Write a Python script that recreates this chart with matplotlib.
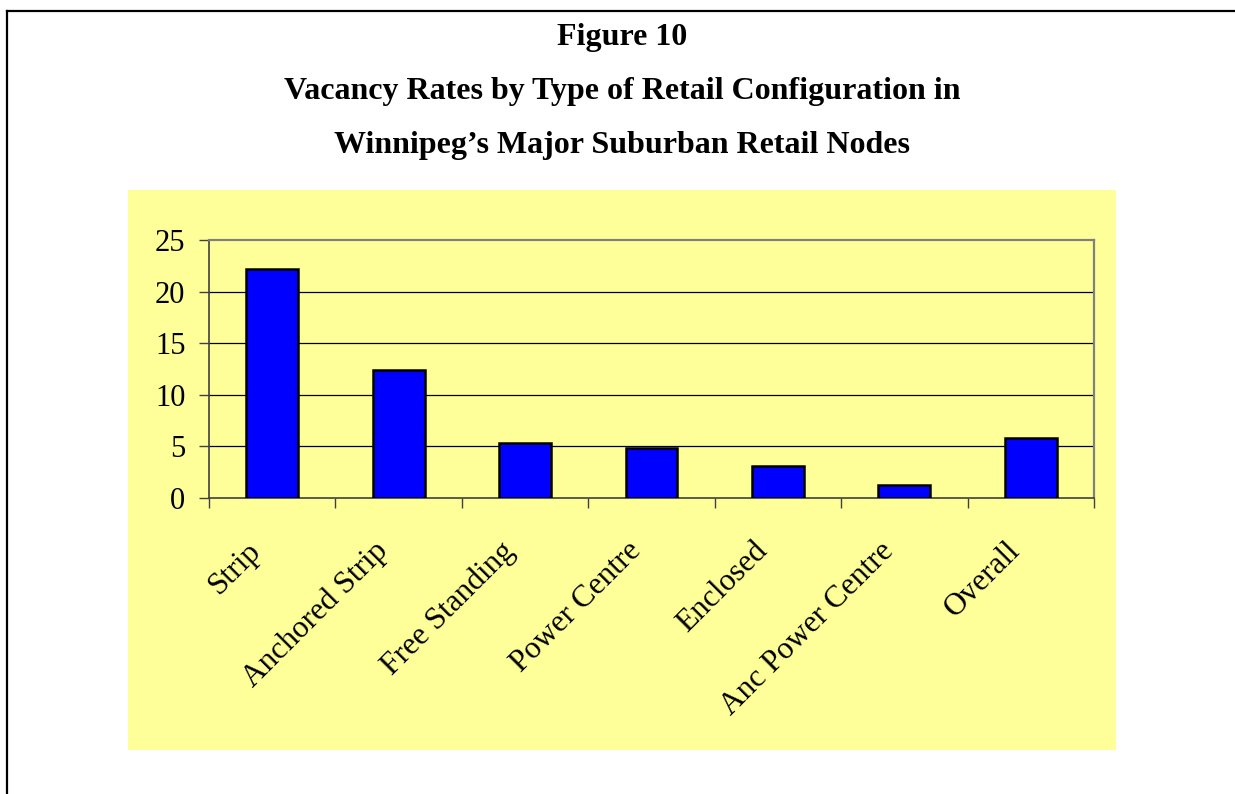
import matplotlib
matplotlib.use('Agg')
import matplotlib.pyplot as plt
import matplotlib.transforms as mtransforms
from matplotlib.lines import Line2D

plt.rcParams['font.family'] = ['Liberation Serif', 'DejaVu Serif']

categories = ['Strip', 'Anchored Strip', 'Free Standing', 'Power Centre',
              'Enclosed', 'Anc Power Centre', 'Overall']
vacancy = [22.2, 12.4, 5.3, 4.8, 3.1, 1.3, 5.8]
yticks = [0, 5, 10, 15, 20, 25]

W, H = 1235, 794
fig = plt.figure(figsize=(W / 100, H / 100), dpi=100)
fig.patch.set_facecolor('white')

# page border (left and top only)
fig.add_artist(Line2D([7 / W, 7 / W], [0, 1 - 11 / H], transform=fig.transFigure,
                      color='black', lw=1.6))
fig.add_artist(Line2D([7 / W, 1], [1 - 11 / H, 1 - 11 / H], transform=fig.transFigure,
                      color='black', lw=1.6))

# titles
fig.text(622 / W, 1 - 37 / H, 'Figure 10', ha='center', va='center',
         fontsize=23, fontweight='bold')
fig.text(622 / W, 1 - 91 / H, 'Vacancy Rates by Type of Retail Configuration in',
         ha='center', va='center', fontsize=23, fontweight='bold')
fig.text(622 / W, 1 - 146 / H, 'Winnipeg\u2019s Major Suburban Retail Nodes',
         ha='center', va='center', fontsize=23, fontweight='bold')

# yellow chart area
fig.add_artist(plt.Rectangle((128 / W, 1 - 750 / H), (1116 - 128) / W, (750 - 190) / H,
                             transform=fig.transFigure, facecolor='#FFFF99',
                             edgecolor='none', zorder=0))

ax = fig.add_axes([209 / W, 1 - 498 / H, (1094 - 209) / W, (498 - 240) / H])
ax.set_facecolor('#FFFF99')
x = list(range(len(categories)))
ax.bar(x, vacancy, width=0.41, color='#0000FF', edgecolor='black', linewidth=1.8, zorder=3)

ax.set_xlim(-0.5, len(categories) - 0.5)
ax.set_ylim(0, 25)
ax.set_yticks(yticks)
ax.set_yticklabels([str(v) for v in yticks], fontsize=22)
for v in yticks[1:-1]:
    ax.axhline(v, color='black', lw=0.9, zorder=1)

ax.set_xticks([i - 0.5 for i in range(len(categories) + 1)])
ax.set_xticklabels([])
ax.set_xticks(x, minor=True)
ax.set_xticklabels(categories, minor=True, rotation=45, ha='right', va='center',
                   rotation_mode='anchor', fontsize=22.5)
ax.tick_params(axis='x', which='minor', length=0, pad=35)
ax.tick_params(axis='x', which='major', length=7, width=1, color='#404040', direction='out')
ax.tick_params(axis='y', length=7, width=1, color='#404040', pad=10)

offset = mtransforms.ScaledTranslation(-0.15, 0, fig.dpi_scale_trans)
for lab in ax.xaxis.get_minorticklabels():
    lab.set_transform(lab.get_transform() + offset)

for side in ['top', 'right']:
    ax.spines[side].set_color('#808080')
    ax.spines[side].set_linewidth(1.6)
for side in ['left', 'bottom']:
    ax.spines[side].set_color('#404040')
    ax.spines[side].set_linewidth(1.2)

plt.savefig('out.png', dpi=100)
